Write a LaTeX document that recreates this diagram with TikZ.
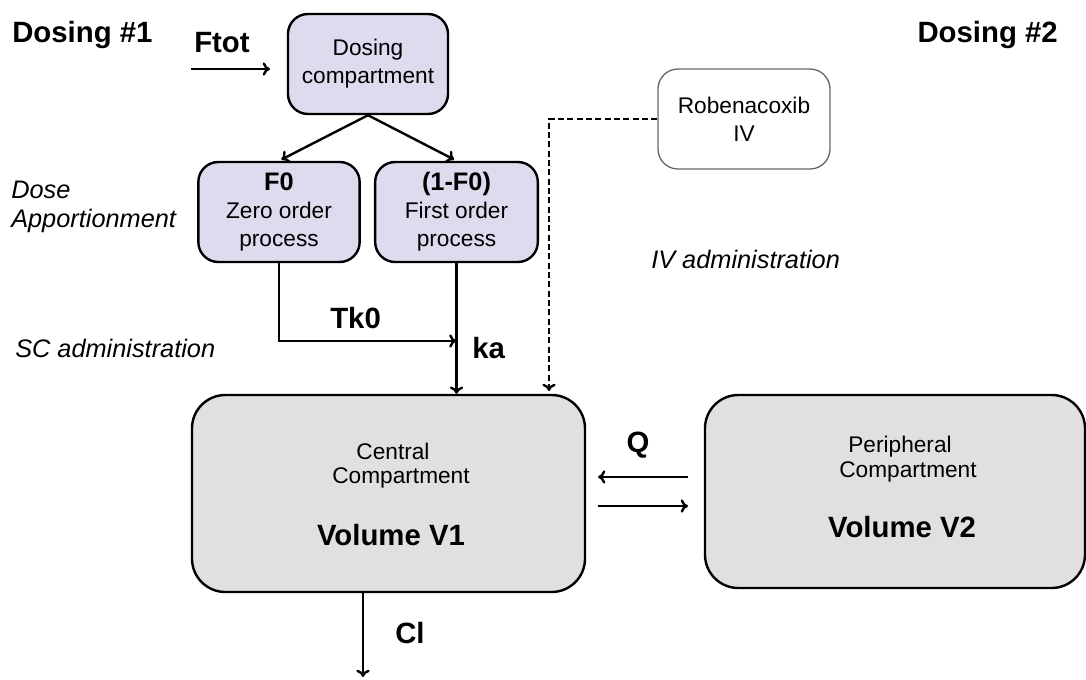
\documentclass[tikz,border=0pt]{standalone}
\usepackage{fontspec}
\setmainfont{Liberation Sans}
\usetikzlibrary{arrows.meta}

\definecolor{dosefill}{RGB}{220,220,238}
\definecolor{compfill}{RGB}{224,224,224}
\definecolor{ivgray}{RGB}{105,105,105}

\tikzset{
  smallbox/.style={draw, line width=1.8pt, rounded corners=15pt, fill=dosefill,
    minimum width=121pt, minimum height=75pt, inner sep=0pt, align=center,
    font=\fontsize{17}{21}\selectfont},
  bigbox/.style={draw, line width=1.8pt, rounded corners=25pt, fill=compfill, inner sep=0pt},
  boxtxt/.style={anchor=base, inner sep=0pt, font=\fontsize{17}{19}\selectfont},
  voltxt/.style={anchor=base, inner sep=0pt, font=\fontsize{22}{25}\selectfont\bfseries},
  lbl/.style={anchor=base west, inner sep=0pt, font=\fontsize{22}{25}\selectfont\bfseries},
  note/.style={anchor=base west, inner sep=0pt, font=\fontsize{19}{22}\selectfont\itshape},
  flow/.style={line width=1.8pt, -{To[length=5.5pt,width=10pt]}},
}

\begin{document}
\begin{tikzpicture}[x=0.75pt,y=-0.75pt]
\useasboundingbox (0,0) rectangle (1086,679);
% dosing boxes
\node[smallbox, minimum width=120pt] (dose) at (368,64) {Dosing\\compartment};
\node[smallbox] (f0) at (279,212) {{\fontsize{19}{21}\selectfont\bfseries F0}\\Zero order\\process};
\node[smallbox, minimum width=122pt] (f1) at (456.5,212) {{\fontsize{19}{21}\selectfont\bfseries (1-F0)}\\First order\\process};
\node[smallbox, fill=white, draw=ivgray, line width=1pt, minimum width=129pt] (robe) at (744,119) {Robenacoxib\\IV};
% compartments
\node[bigbox, minimum width=294.75pt, minimum height=147.75pt] (central) at (388.5,493.5) {};
\node[bigbox, minimum width=285pt, minimum height=144.75pt] (periph) at (895,491.5) {};
\node[boxtxt] (cname) at (393,459) {Central};
\node[boxtxt] (ccomp) at (401,483) {Compartment};
\node[voltxt] (v1) at (391,545) {Volume V1};
\node[boxtxt] (pname) at (900,452) {Peripheral};
\node[boxtxt] (pcomp) at (908,477) {Compartment};
\node[voltxt] (v2) at (902,537) {Volume V2};
% labels
\node[lbl] (dos1) at (12,42) {Dosing \#1};
\node[lbl, anchor=base east] (dos2) at (1058,42) {Dosing \#2};
\node[lbl] (ftot) at (194,52) {Ftot};
\node[lbl] (tk0) at (330,328) {Tk0};
\node[lbl] (ka) at (472,358) {ka};
\node[lbl, anchor=base] (q) at (638,452) {Q};
\node[lbl] (cl) at (395,643) {Cl};
\node[note, anchor=west, align=left] (appor) at (11,207) {Dose\\Apportionment};
\node[note] (sc) at (15,357) {SC administration};
\node[note] (iv) at (651,268) {IV administration};
% connectors
\coordinate (ftotin) at (191,69);
\coordinate (ftotout) at (270,69);
\coordinate (tkjoin) at (456.5,341);
\coordinate (ivin) at (549,391);
\coordinate (qtop) at (688,477);
\coordinate (qbot) at (598,506);
\coordinate (clout) at (363,677);
\draw[flow] (ftotin) -- (ftotout);
\draw[flow, shorten >=2pt] (dose.south) -- (f0.north);
\draw[flow, shorten >=2pt] (dose.south) -- (f1.north);
\draw[flow] (f0.south) |- (tkjoin);
\draw[flow] (f1.south) -- (f1.south |- central.north);
\draw[flow, dash pattern=on 4.5pt off 2.5pt] (robe.west) -| (ivin);
\draw[flow] (qtop) -- (qtop -| qbot);
\draw[flow] (qbot) -- (qbot -| qtop);
\draw[flow] (central.south -| clout) -- (clout);
\end{tikzpicture}
\end{document}
